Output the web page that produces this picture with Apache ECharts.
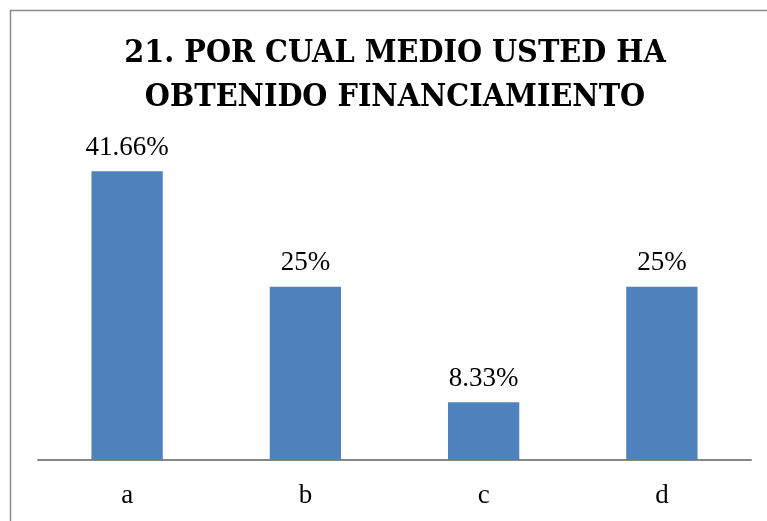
<!DOCTYPE html>
<html>
<head>
<meta charset="utf-8">
<script src="https://cdn.jsdelivr.net/npm/echarts@6/dist/echarts.min.js"></script>
<style>
  html, body { margin: 0; padding: 0; background: #fff; }
  #chart { width: 767px; height: 521px; }
</style>
</head>
<body>
<div id="chart"></div>
<script>
var categories = ['a', 'b', 'c', 'd'];
var values = [41.66, 25, 8.33, 25];
var labels = ['41.66%', '25%', '8.33%', '25%'];
var titleText = '21. POR CUAL MEDIO USTED HA\nOBTENIDO FINANCIAMIENTO';

var chart = echarts.init(document.getElementById('chart'));
var option = {
    animation: false,
    graphic: [{
        type: 'rect',
        shape: { x: 10.5, y: 10.5, width: 800, height: 600 },
        style: { fill: 'none', stroke: '#8c8c8c', lineWidth: 1.5 },
        silent: true
    }, {
        type: 'text',
        x: 395,
        y: 32,
        style: {
            text: titleText,
            align: 'center',
            verticalAlign: 'top',
            font: 'bold 32px "DejaVu Serif Condensed", "DejaVu Serif", serif',
            lineHeight: 44,
            fill: '#000'
        },
        silent: true
    }],
    grid: { left: 38, right: 16, top: 113.5, bottom: 61 },
    xAxis: {
        type: 'category',
        data: categories,
        axisLine: { lineStyle: { color: '#868686', width: 2 } },
        axisTick: { show: false },
        axisLabel: {
            fontFamily: 'Liberation Serif, serif',
            fontSize: 27,
            color: '#000',
            margin: 22
        }
    },
    yAxis: {
        type: 'value',
        min: 0,
        max: 50,
        show: false
    },
    series: [{
        type: 'bar',
        data: values,
        barWidth: '40%',
        itemStyle: { color: '#4F81BD' },
        label: {
            show: true,
            position: 'top',
            distance: 10,
            fontFamily: 'Liberation Serif, serif',
            fontSize: 27,
            color: '#000',
            formatter: function (p) { return labels[p.dataIndex]; }
        }
    }]
};
chart.setOption(option);
</script>
</body>
</html>
